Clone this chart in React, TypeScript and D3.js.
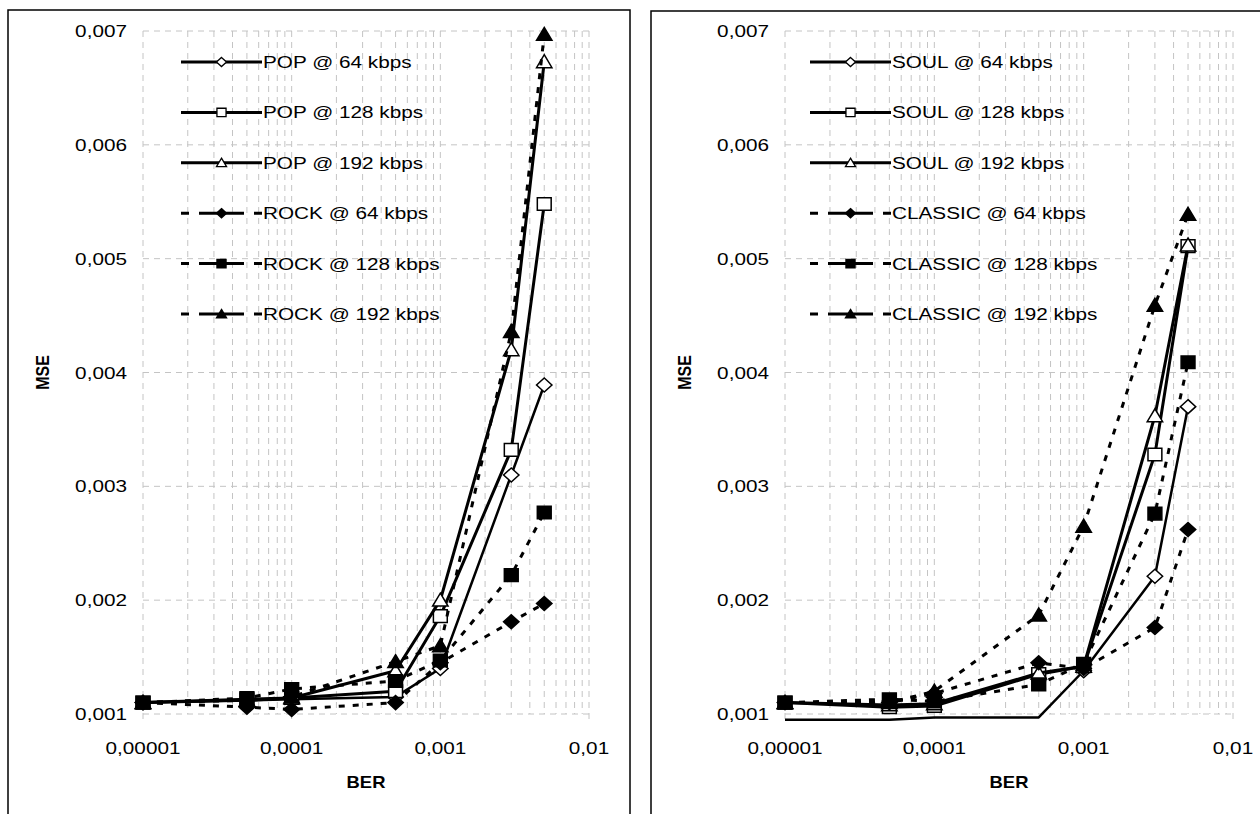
import { useRef, useEffect } from "react";
import * as d3 from "d3";

const BER = [0.00001, 0.00005, 0.0001, 0.0005, 0.001, 0.003, 0.005];
const X_TICKS = [0.00001, 0.0001, 0.001, 0.01];
const X_TICK_LABELS = ["0,00001", "0,0001", "0,001", "0,01"];
const Y_TICKS = [0.001, 0.002, 0.003, 0.004, 0.005, 0.006, 0.007];
const Y_TICK_LABELS = ["0,001", "0,002", "0,003", "0,004", "0,005", "0,006", "0,007"];

// left panel
const POP_64 = [0.0011, 0.00112, 0.00113, 0.00115, 0.0014, 0.0031, 0.00389];
const POP_128 = [0.0011, 0.00113, 0.00114, 0.0012, 0.00186, 0.00332, 0.00548];
const POP_192 = [0.0011, 0.00112, 0.00114, 0.00138, 0.002, 0.0042, 0.00673];
const ROCK_64 = [0.0011, 0.00106, 0.00104, 0.0011, 0.00145, 0.00181, 0.00197];
const ROCK_128 = [0.0011, 0.00114, 0.00122, 0.00129, 0.00147, 0.00222, 0.00277];
const ROCK_192 = [0.0011, 0.00112, 0.00115, 0.00146, 0.0016, 0.00436, 0.00697];

// right panel
const SOUL_64 = [0.00095, 0.00095, 0.00097, 0.00097, 0.00138, 0.00221, 0.0037];
const SOUL_128 = [0.0011, 0.00106, 0.00107, 0.00135, 0.00142, 0.00328, 0.00511];
const SOUL_192 = [0.0011, 0.00108, 0.00109, 0.00136, 0.00142, 0.00362, 0.00512];
const CLASSIC_64 = [0.0011, 0.0011, 0.00118, 0.00145, 0.0014, 0.00176, 0.00262];
const CLASSIC_128 = [0.0011, 0.00113, 0.00111, 0.00126, 0.00144, 0.00276, 0.00409];
const CLASSIC_192 = [0.0011, 0.0011, 0.0012, 0.00187, 0.00265, 0.00459, 0.00539];

const LEFT_NAMES = ["POP @ 64 kbps", "POP @ 128 kbps", "POP @ 192 kbps", "ROCK @ 64 kbps", "ROCK @ 128 kbps", "ROCK @ 192 kbps"];
const RIGHT_NAMES = ["SOUL @ 64 kbps", "SOUL @ 128 kbps", "SOUL @ 192 kbps", "CLASSIC @ 64 kbps", "CLASSIC @ 128 kbps", "CLASSIC @ 192 kbps"];

const SHAPES = ["diamond", "square", "triangle", "diamond", "square", "triangle"];
const FILLED = [false, false, false, true, true, true];
const DASHED = [false, false, false, true, true, true];

const FONT = "'Liberation Sans', Arial, sans-serif";
const SX = 1.22; // the source picture is stretched sideways

function markerPath(shape, cx, cy, s) {
  const w = s * 1.1;
  if (shape === "diamond") {
    return `M${cx},${cy - s}L${cx + w},${cy}L${cx},${cy + s}L${cx - w},${cy}Z`;
  }
  if (shape === "square") {
    return `M${cx - w * 0.9},${cy - s * 0.9}h${w * 1.8}v${s * 1.8}h${-w * 1.8}Z`;
  }
  return `M${cx},${cy - s}L${cx + w},${cy + s * 0.85}L${cx - w},${cy + s * 0.85}Z`;
}

function addText(g, x, y, str, opts = {}) {
  return g.append("text")
    .attr("transform", `translate(${x},${y}) scale(${opts.sx ?? SX},1)`)
    .attr("text-anchor", opts.anchor || "start")
    .attr("font-family", FONT)
    .attr("font-size", opts.size || 17)
    .attr("font-weight", opts.bold ? "bold" : "normal")
    .attr("fill", "#000")
    .text(str);
}

function drawPanel(svg, cfg) {
  const g = svg.append("g");
  const { box, x0, x1, series, names } = cfg;

  g.append("rect")
    .attr("x", box[0]).attr("y", box[1]).attr("width", box[2]).attr("height", box[3])
    .attr("fill", "#fff").attr("stroke", "#000").attr("stroke-width", 1.5);

  const x = d3.scaleLog().domain([0.00001, 0.01]).range([x0, x1]);
  const y = d3.scaleLinear().domain([0.001, 0.007]).range([714, 31]);

  // vertical gridlines (major + minor)
  const vTicks = x.ticks();
  g.append("g").selectAll("line").data(vTicks).join("line")
    .attr("x1", (d) => x(d)).attr("x2", (d) => x(d))
    .attr("y1", y(0.007)).attr("y2", y(0.001))
    .attr("stroke", "#c4c4c4").attr("stroke-width", 1).attr("stroke-dasharray", "6,5");

  // horizontal gridlines
  g.append("g").selectAll("line").data(Y_TICKS).join("line")
    .attr("x1", x0).attr("x2", x1)
    .attr("y1", (d) => y(d)).attr("y2", (d) => y(d))
    .attr("stroke", "#c4c4c4").attr("stroke-width", 1).attr("stroke-dasharray", "6,5");

  // small tick marks under the major x ticks
  g.append("g").selectAll("line").data(X_TICKS).join("line")
    .attr("x1", (d) => x(d)).attr("x2", (d) => x(d))
    .attr("y1", y(0.001)).attr("y2", y(0.001) + 5)
    .attr("stroke", "#c4c4c4").attr("stroke-width", 1);

  // tick labels
  Y_TICKS.forEach((t, i) => addText(g, x0 - 16, y(t) + 6, Y_TICK_LABELS[i], { anchor: "end" }));
  X_TICKS.forEach((t, i) => addText(g, x(t), 754, X_TICK_LABELS[i], { anchor: "middle" }));

  // axis titles
  addText(g, (x0 + x1) / 2, 788, "BER", { anchor: "middle", bold: true, size: 16, sx: 1.15 });
  g.append("text")
    .attr("transform", `translate(${x0 - 94},${(y(0.001) + y(0.007)) / 2}) rotate(-90) scale(1,1.15)`)
    .attr("text-anchor", "middle")
    .attr("font-family", FONT).attr("font-size", 16).attr("font-weight", "bold")
    .text("MSE");

  const line = d3.line().x((d, i) => x(BER[i])).y((d) => y(d));

  series.forEach((vals, si) => {
    g.append("path")
      .attr("d", line(vals))
      .attr("fill", "none")
      .attr("stroke", "#000")
      .attr("stroke-width", si === 0 ? 2.5 : 3)
      .attr("stroke-dasharray", DASHED[si] ? "6,8" : null)
      .attr("stroke-linejoin", "round");

    g.append("g").selectAll("path")
      .data(vals.map((v, i) => ({ v, b: BER[i] })).filter((d) => d.v >= 0.001))
      .join("path")
      .attr("d", (d) => markerPath(SHAPES[si], x(d.b), y(d.v), 7))
      .attr("fill", FILLED[si] ? "#000" : "#fff")
      .attr("stroke", "#000")
      .attr("stroke-width", 1.5);
  });

  // legend
  const lx0 = cfg.legendX;
  names.forEach((name, i) => {
    const ly = 62 + i * 50.4;
    g.append("line")
      .attr("x1", lx0).attr("x2", lx0 + 81).attr("y1", ly).attr("y2", ly)
      .attr("stroke", "#000").attr("stroke-width", 3)
      .attr("stroke-dasharray", DASHED[i] ? "8,10,45,10,8" : null);
    g.append("path")
      .attr("d", markerPath(SHAPES[i], lx0 + 40.5, ly, 4.6))
      .attr("fill", FILLED[i] ? "#000" : "#fff")
      .attr("stroke", "#000").attr("stroke-width", 1.3);
    addText(g, lx0 + 82, ly + 6, name);
  });
}

export default function App() {
  const svgRef = useRef(null);

  useEffect(() => {
    document.body.style.margin = "0";
    const svg = d3.select(svgRef.current);
    svg.selectAll("*").remove();
    svg.append("rect").attr("width", 1260).attr("height", 814).attr("fill", "#fff");

    drawPanel(svg, {
      box: [8, 10, 622, 820],
      x0: 143, x1: 589,
      legendX: 181,
      series: [POP_64, POP_128, POP_192, ROCK_64, ROCK_128, ROCK_192],
      names: LEFT_NAMES,
    });
    drawPanel(svg, {
      box: [651, 11, 620, 820],
      x0: 785, x1: 1233,
      legendX: 810,
      series: [SOUL_64, SOUL_128, SOUL_192, CLASSIC_64, CLASSIC_128, CLASSIC_192],
      names: RIGHT_NAMES,
    });
  }, []);

  return (
    <svg
      ref={svgRef}
      width={1260}
      height={814}
      style={{ position: "absolute", left: 0, top: 0, display: "block" }}
    />
  );
}
